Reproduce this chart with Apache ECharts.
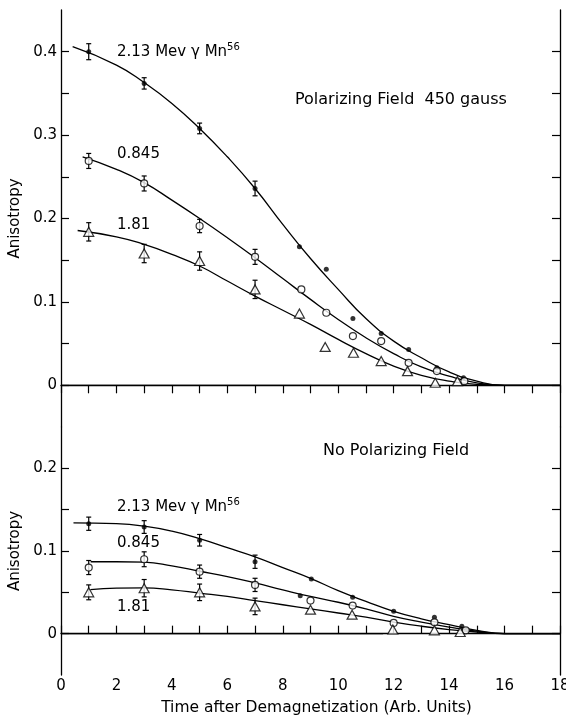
<!DOCTYPE html>
<html>
<head>
<meta charset="utf-8">
<script src="https://cdn.jsdelivr.net/npm/echarts@6/dist/echarts.min.js"></script>
<style>
  html, body { margin: 0; padding: 0; background: #fff; }
  #view { width: 566px; height: 717px; }
</style>
</head>
<body>
<div id="view"></div>
<script>
// --- top panel: polarizing field 450 gauss ---
var topMevX = [1, 3, 5, 7, 8.6, 9.57, 10.53, 11.55, 12.54, 13.56, 14.52];
var topMevY = [0.400, 0.362, 0.308, 0.236, 0.166, 0.139, 0.080, 0.062, 0.043, 0.021, 0.009];
var topMevErr = [0.0096, 0.0068, 0.0064, 0.0088];

var top845X = [1, 3, 5, 7, 8.67, 9.57, 10.53, 11.55, 12.54, 13.56, 14.55];
var top845Y = [0.269, 0.242, 0.191, 0.154, 0.115, 0.087, 0.059, 0.053, 0.027, 0.017, 0.005];
var top845Err = [0.009, 0.009, 0.008, 0.009];

var top181X = [1, 3, 5, 7, 8.6, 9.53, 10.55, 11.55, 12.5, 13.5, 14.3];
var top181Y = [0.184, 0.158, 0.149, 0.115, 0.086, 0.046, 0.039, 0.029, 0.017, 0.003, 0.005];
var top181Err = [0.011, 0.011, 0.011, 0.011];

// fitted curves at whole units
var topMevCurve = [[0.42, 0.406], [2, 0.384], [3, 0.363], [4, 0.338], [5, 0.308], [6, 0.274], [7, 0.236],
  [8, 0.193], [9, 0.152], [10, 0.115], [11, 0.080], [12, 0.053], [13, 0.033], [14, 0.016], [15, 0.005],
  [16, 0], [17, 0], [18, 0]];
var top845Curve = [[0.78, 0.274], [2, 0.259], [3, 0.243], [4, 0.222], [5, 0.200], [6, 0.177], [7, 0.153],
  [8, 0.128], [9, 0.103], [10, 0.079], [11, 0.057], [12, 0.038], [13, 0.022], [14, 0.011], [15, 0.003],
  [16, 0], [17, 0], [18, 0]];
var top181Curve = [[0.6, 0.1856], [2, 0.178], [3, 0.169], [4, 0.157], [5, 0.143], [6, 0.125], [7, 0.107],
  [8, 0.090], [9, 0.073], [10, 0.055], [11, 0.038], [12, 0.023], [13, 0.012], [14, 0.005], [15, 0.001],
  [16, 0], [17, 0], [18, 0]];
var topBase = [[0, 0], [12.95, 0]];

// --- bottom panel: no polarizing field ---
var botMevX = [1, 3, 5, 7, 8.63, 9.03, 10.52, 12.0, 13.47, 14.46];
var botMevY = [0.133, 0.129, 0.113, 0.087, 0.046, 0.066, 0.044, 0.027, 0.020, 0.009];
var botMevErr = [0.008, 0.0077, 0.007, 0.008];

var bot845X = [1, 3, 5, 7, 9.0, 10.52, 12.0, 13.47, 14.6];
var bot845Y = [0.080, 0.090, 0.075, 0.059, 0.040, 0.034, 0.013, 0.0137, 0.004];
var bot845Err = [0.0085, 0.009, 0.008, 0.008];

var bot181X = [1, 3, 5, 7, 9.0, 10.5, 11.97, 13.47, 14.4];
var bot181Y = [0.050, 0.055, 0.050, 0.033, 0.029, 0.023, 0.005, 0.004, 0.002];
var bot181Err = [0.009, 0.0105, 0.010, 0.010];

var botMevCurve = [[0.45, 0.134], [2, 0.133], [3, 0.130], [4, 0.124], [5, 0.115], [6, 0.104], [7, 0.093],
  [8, 0.080], [9, 0.067], [10, 0.052], [11, 0.039], [12, 0.027], [13, 0.018], [14, 0.011], [15, 0.004],
  [16, 0], [17, 0], [18, 0]];
var bot845Curve = [[1.07, 0.087], [2, 0.087], [3, 0.0865], [4, 0.082], [5, 0.0755], [6, 0.069], [7, 0.0614],
  [8, 0.053], [9, 0.045], [10, 0.038], [11, 0.030], [12, 0.021], [13, 0.014], [14, 0.008], [15, 0.003],
  [16, 0], [17, 0], [18, 0]];
var bot181Curve = [[1.06, 0.0533], [2, 0.055], [3, 0.0554], [4, 0.053], [5, 0.049], [6, 0.045], [7, 0.040],
  [8, 0.035], [9, 0.030], [10, 0.025], [11, 0.020], [12, 0.014], [13, 0.009], [14, 0.005], [15, 0.002],
  [16, 0], [17, 0], [18, 0]];
var botBase = [[0, 0], [11.62, 0]];

var xTicks = [0, 2, 4, 6, 8, 10, 12, 14, 16, 18];
var topYLabels = [0, 0.1, 0.2, 0.3, 0.4];
var topYTicks = [0, 0.05, 0.1, 0.15, 0.2, 0.25, 0.3, 0.35, 0.4];
var botYLabels = [0, 0.1, 0.2];
var botYTicks = [0, 0.05, 0.1, 0.15, 0.2];

var FONT = 'DejaVu Sans';
var myChart = echarts.init(document.getElementById('view'));

function pairs(xs, ys) {
  return xs.map(function (x, i) { return [x, ys[i]]; });
}

function curve(data, gi) {
  return {
    type: 'line', xAxisIndex: gi, yAxisIndex: gi, data: data,
    smooth: 0.5, showSymbol: false, silent: true,
    lineStyle: { color: '#000', width: 1.3 }, z: 2
  };
}

function dots(xs, ys, gi, kind) {
  var s = { type: 'scatter', xAxisIndex: gi, yAxisIndex: gi, data: pairs(xs, ys), z: 5, silent: true };
  if (kind === 'dot') {
    s.symbol = 'circle'; s.symbolSize = 5;
    s.itemStyle = { color: '#000' };
  } else if (kind === 'ring') {
    s.symbol = 'circle'; s.symbolSize = 7;
    s.itemStyle = { color: '#fff', borderColor: '#000', borderWidth: 1.2 };
  } else {
    s.symbol = 'triangle'; s.symbolSize = [10, 9];
    s.itemStyle = { color: '#fff', borderColor: '#000', borderWidth: 1.2 };
  }
  return s;
}

function errBars(xs, ys, es, gi) {
  var d = es.map(function (e, i) { return [xs[i], ys[i], e]; });
  return {
    type: 'custom', xAxisIndex: gi, yAxisIndex: gi, data: d, z: 4, silent: true,
    renderItem: function (params, api) {
      var x = api.value(0), y = api.value(1), e = api.value(2);
      var a = api.coord([x, y + e]), b = api.coord([x, y - e]);
      var w = 2.5, st = { stroke: '#000', lineWidth: 1.2 };
      return {
        type: 'group', children: [
          { type: 'line', shape: { x1: a[0], y1: a[1], x2: b[0], y2: b[1] }, style: st },
          { type: 'line', shape: { x1: a[0] - w, y1: a[1], x2: a[0] + w, y2: a[1] }, style: st },
          { type: 'line', shape: { x1: b[0] - w, y1: b[1], x2: b[0] + w, y2: b[1] }, style: st }
        ]
      };
    }
  };
}

var axLine = { show: true, lineStyle: { color: '#000', width: 1.3 } };
var tickSt = { color: '#000', width: 1.2 };

function yAx(gi, pos, min, max, ticks, labels, named) {
  return {
    type: 'value', gridIndex: gi, position: pos, min: min, max: max, interval: 0.05,
    splitLine: { show: false }, axisLine: axLine,
    axisTick: { show: true, inside: true, length: 8, lineStyle: tickSt, customValues: ticks },
    axisLabel: {
      show: pos === 'left', customValues: labels, margin: 4,
      color: '#000', fontSize: 15, fontFamily: FONT,
      formatter: function (v) { return v === 0 ? '0' : v.toFixed(1); }
    },
    name: named ? 'Anisotropy' : '', nameLocation: 'middle', nameGap: 26,
    nameTextStyle: { color: '#000', fontSize: 15, fontFamily: FONT }
  };
}

function label(x, y, txt, size) {
  return { type: 'text', x: x, y: y, style: { text: txt, verticalAlign: 'middle', font: size + 'px ' + FONT, fill: '#000' } };
}

function mevLabel(x, y) {
  return { type: 'text', x: x, y: y, style: {
    text: '{a|2.13 Mev γ Mn}{s|56}', verticalAlign: 'middle',
    rich: { a: { fontSize: 15, fontFamily: FONT, lineHeight: 20, fill: '#000' },
            s: { fontSize: 10, fontFamily: FONT, verticalAlign: 'top', lineHeight: 10, fill: '#000' } } } };
}

option = {
  animation: false,
  backgroundColor: '#fff',
  grid: [
    { left: 61, right: 6, top: 10, height: 417, outerBoundsMode: 'none', containLabel: false },
    { left: 61, right: 6, top: 427, height: 248, outerBoundsMode: 'none', containLabel: false }
  ],
  xAxis: [
    {
      type: 'value', gridIndex: 0, position: 'top', min: 0, max: 18, interval: 1,
      splitLine: { show: false }, axisLine: axLine,
      axisTick: { show: true, inside: true, length: 8, lineStyle: tickSt },
      axisLabel: { show: false }
    },
    {
      type: 'value', gridIndex: 1, position: 'bottom', min: 0, max: 18, interval: 1,
      splitLine: { show: false }, axisLine: axLine,
      axisTick: { show: true, inside: true, length: 8, lineStyle: tickSt },
      axisLabel: {
        customValues: xTicks, margin: 4, color: '#000', fontSize: 15, fontFamily: FONT,
        formatter: function (v) { return String(v); }
      },
      name: 'Time after Demagnetization (Arb. Units)', nameLocation: 'middle', nameGap: 25,
      nameTextStyle: { color: '#000', fontSize: 15.5, fontFamily: FONT, padding: [0, 0, 0, 12] }
    }
  ],
  yAxis: [
    yAx(0, 'left', -0.05, 0.45, topYTicks, topYLabels, true),
    yAx(1, 'left', -0.05, 0.25, botYTicks, botYLabels, true),
    yAx(0, 'right', -0.05, 0.45, topYTicks, [], false),
    yAx(1, 'right', -0.05, 0.25, botYTicks, [], false)
  ],
  graphic: [
    mevLabel(117, 52),
    label(117, 154, '0.845', 15),
    label(117, 225, '1.81', 15),
    label(295, 100, 'Polarizing Field  450 gauss', 16),
    mevLabel(117, 507),
    label(117, 543, '0.845', 15),
    label(117, 607, '1.81', 15),
    label(323, 451, 'No Polarizing Field', 16)
  ],
  series: [
    curve(topBase, 0), curve(botBase, 1),
    curve(topMevCurve, 0), curve(top845Curve, 0), curve(top181Curve, 0),
    curve(botMevCurve, 1), curve(bot845Curve, 1), curve(bot181Curve, 1),
    errBars(topMevX, topMevY, topMevErr, 0),
    errBars(top845X, top845Y, top845Err, 0),
    errBars(top181X, top181Y, top181Err, 0),
    errBars(botMevX, botMevY, botMevErr, 1),
    errBars(bot845X, bot845Y, bot845Err, 1),
    errBars(bot181X, bot181Y, bot181Err, 1),
    dots(topMevX, topMevY, 0, 'dot'),
    dots(top845X, top845Y, 0, 'ring'),
    dots(top181X, top181Y, 0, 'tri'),
    dots(botMevX, botMevY, 1, 'dot'),
    dots(bot845X, bot845Y, 1, 'ring'),
    dots(bot181X, bot181Y, 1, 'tri')
  ]
};

myChart.setOption(option);
</script>
</body>
</html>
